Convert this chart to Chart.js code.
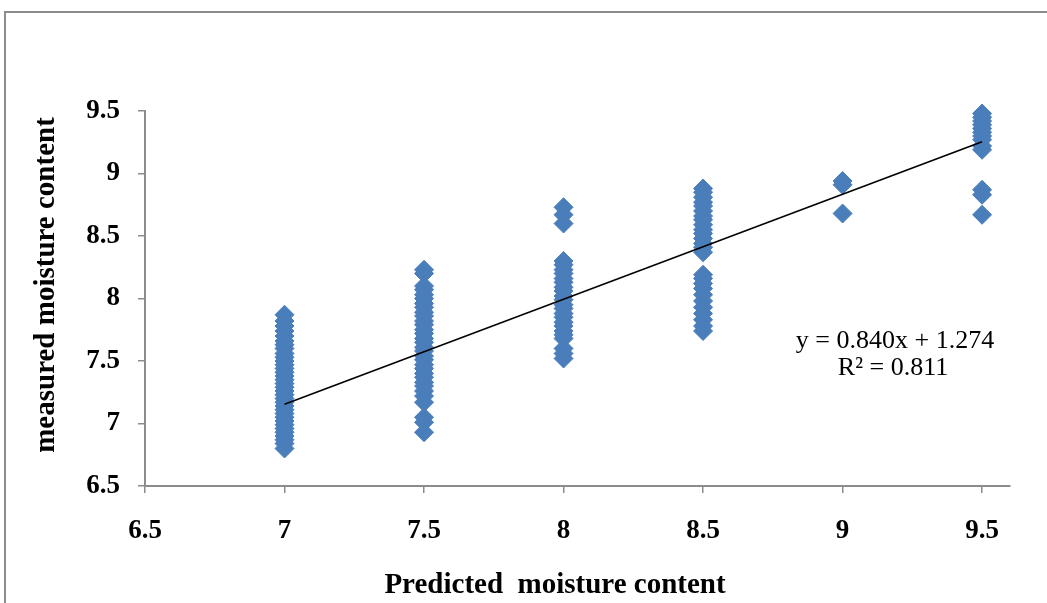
<!DOCTYPE html>
<html>
<head>
<meta charset="utf-8">
<script src="https://cdn.jsdelivr.net/npm/chart.js@4"></script>
<style>
  html, body { margin: 0; padding: 0; background: #fff; }
  #wrap { position: relative; width: 1047px; height: 603px; overflow: hidden; }
  #frame { position: absolute; left: 4px; top: 11px; width: 1100px; height: 700px; border: 2px solid #8c8c8c; box-sizing: border-box; }
  canvas { position: absolute; left: 0; top: 0; }
</style>
</head>
<body>
<div id="wrap">
  <div id="frame"></div>
  <canvas id="chart" width="1047" height="603"></canvas>
</div>
<script>
// predicted moisture levels (x) and the measured values read at each one
const predictedLevels = [7, 7.5, 8, 8.5, 9, 9.5];

const measuredAt7 = [7.87, 7.82, 7.78, 7.74, 7.70, 7.66, 7.63, 7.60, 7.56, 7.53, 7.50, 7.47,
  7.44, 7.41, 7.38, 7.35, 7.32, 7.29, 7.26, 7.23, 7.20, 7.17, 7.14, 7.11, 7.08, 7.05, 7.02,
  6.99, 6.96, 6.93, 6.90, 6.87, 6.84, 6.80];
const measuredAt75 = [8.23, 8.20, 8.10, 8.07, 8.03, 8.00, 7.96, 7.93, 7.89, 7.86, 7.82, 7.79,
  7.75, 7.72, 7.68, 7.65, 7.61, 7.58, 7.54, 7.51, 7.47, 7.44, 7.40, 7.37, 7.33, 7.30, 7.26,
  7.22, 7.17, 7.05, 7.01, 6.93];
const measuredAt8 = [8.73, 8.67, 8.60, 8.30, 8.27, 8.23, 8.20, 8.16, 8.13, 8.09, 8.06, 8.02,
  7.99, 7.95, 7.92, 7.88, 7.85, 7.81, 7.78, 7.74, 7.71, 7.68, 7.60, 7.56, 7.52];
const measuredAt85 = [8.88, 8.85, 8.81, 8.77, 8.74, 8.70, 8.66, 8.63, 8.59, 8.55, 8.52, 8.48,
  8.44, 8.41, 8.37, 8.19, 8.16, 8.12, 8.08, 8.03, 7.98, 7.93, 7.88, 7.83, 7.78, 7.74];
const measuredAt9 = [8.94, 8.91, 8.68];
const measuredAt95 = [9.48, 9.45, 9.42, 9.39, 9.36, 9.33, 9.30, 9.27, 9.22, 9.19, 8.87, 8.83, 8.67];

const measuredColumns = [measuredAt7, measuredAt75, measuredAt8, measuredAt85, measuredAt9, measuredAt95];

// linear trend shown on the chart
const trendSlope = 0.840;
const trendIntercept = 1.274;
const trendRange = [7, 9.5];
const trendLabel = "y = 0.840x + 1.274";
const r2Label = "R\u00b2 = 0.811";

const xTitle = "Predicted  moisture content";
const yTitle = "measured moisture content";

const xTicks = [6.5, 7, 7.5, 8, 8.5, 9, 9.5];
const yTicks = [6.5, 7, 7.5, 8, 8.5, 9, 9.5];

const points = [];
predictedLevels.forEach((x, i) => {
  measuredColumns[i].forEach(y => points.push({ x: x, y: y }));
});

const trendPoints = trendRange.map(x => ({ x: x, y: trendSlope * x + trendIntercept }));

const serif = "'Liberation Serif', 'Times New Roman', serif";
const axisGray = "#8c8c8c";

// equation, R² and both axis titles (placed like the original, off-centre)
const chartText = {
  id: "chartText",
  afterDraw(chart) {
    const ctx = chart.ctx;
    ctx.save();
    ctx.fillStyle = "#000";
    ctx.textAlign = "center";
    ctx.textBaseline = "middle";
    ctx.font = "26px " + serif;
    ctx.fillText(trendLabel, 895, 341);
    ctx.fillText(r2Label, 893, 368);
    ctx.font = "bold 29px " + serif;
    ctx.fillText(xTitle, 555, 586);
    ctx.translate(47, 285);
    ctx.rotate(-Math.PI / 2);
    ctx.fillText(yTitle, 0, 0);
    ctx.restore();
  }
};

new Chart(document.getElementById("chart"), {
  type: "scatter",
  data: {
    datasets: [
      {
        type: "line",
        data: trendPoints,
        borderColor: "#000",
        borderWidth: 1.6,
        pointRadius: 0,
        fill: false
      },
      {
        data: points,
        clip: false,
        pointStyle: "rectRot",
        pointRadius: 9.5,
        backgroundColor: "#4a7ebb",
        borderColor: "#4a7ebb",
        borderWidth: 1
      }
    ]
  },
  options: {
    responsive: false,
    animation: false,
    layout: { padding: { top: 111, right: 37, left: 0, bottom: 0 } },
    plugins: { legend: { display: false }, tooltip: { enabled: false } },
    scales: {
      x: {
        type: "linear",
        min: 6.5,
        max: 9.6,
        afterBuildTicks: s => { s.ticks = xTicks.map(v => ({ value: v })); },
        afterFit: s => { s.height = 117; },
        grid: { drawOnChartArea: false, drawTicks: true, tickLength: 7, color: axisGray, lineWidth: 1.5 },
        border: { color: axisGray, width: 2 },
        ticks: {
          color: "#000",
          padding: 22,
          maxRotation: 0,
          font: { family: serif, size: 27, weight: "bold" },
          callback: v => String(v)
        }
      },
      y: {
        type: "linear",
        min: 6.5,
        max: 9.5,
        afterBuildTicks: s => { s.ticks = yTicks.map(v => ({ value: v })); },
        afterFit: s => { s.width = 145; },
        grid: { drawOnChartArea: false, drawTicks: true, tickLength: 7, color: axisGray, lineWidth: 1.5 },
        border: { color: axisGray, width: 2 },
        ticks: {
          color: "#000",
          padding: 18,
          font: { family: serif, size: 27, weight: "bold" },
          callback: v => String(v)
        }
      }
    }
  },
  plugins: [chartText]
});
</script>
</body>
</html>
